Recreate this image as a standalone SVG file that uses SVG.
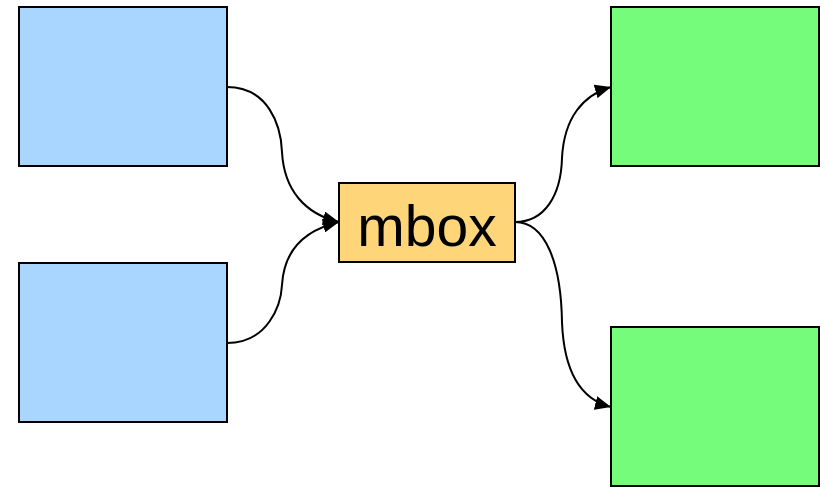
<svg xmlns="http://www.w3.org/2000/svg" width="825" height="487" viewBox="0 0 825 487">
<defs>
<style>
.src{fill:#a9d6ff;stroke:#000;stroke-width:2}
.dst{fill:#75fc7a;stroke:#000;stroke-width:2}
.mid{fill:#ffd57a;stroke:#000;stroke-width:2}
.edge{fill:none;stroke:#000;stroke-width:2}
text{font-family:"Liberation Sans",Arial,sans-serif}
</style>
<marker id="arr" viewBox="0 0 16 14" refX="16" refY="7" markerWidth="16" markerHeight="14" markerUnits="userSpaceOnUse" orient="auto">
<path d="M0,0 L16,7 L0,14 z" fill="#000"/>
</marker>
</defs>
<g id="src1"><rect class="src" x="19" y="7" width="208" height="159"/></g>
<g id="src2"><rect class="src" x="19" y="263" width="208" height="159"/></g>
<g id="mbox"><rect class="mid" x="339" y="183" width="176" height="79"/><text x="427" y="246" font-size="57" text-anchor="middle">mbox</text></g>
<g id="dst1"><rect class="dst" x="611" y="7" width="208" height="159"/></g>
<g id="dst2"><rect class="dst" x="611" y="327" width="208" height="159"/></g>
<g id="connectors">
<path class="edge" d="M227,87 C268,87 281,125 282,152 C284,190 305,214 339,222" marker-end="url(#arr)"/>
<path class="edge" d="M227,343 C268,343 281,305 282,285 C284,250 305,230 339,222" marker-end="url(#arr)"/>
<path class="edge" d="M515,222 C545,222 561,195 562,158 C564,118 583,95 611,87" marker-end="url(#arr)"/>
<path class="edge" d="M515,222 C545,222 561,262 562,322 C564,375 583,400 611,407" marker-end="url(#arr)"/>
</g>
</svg>
